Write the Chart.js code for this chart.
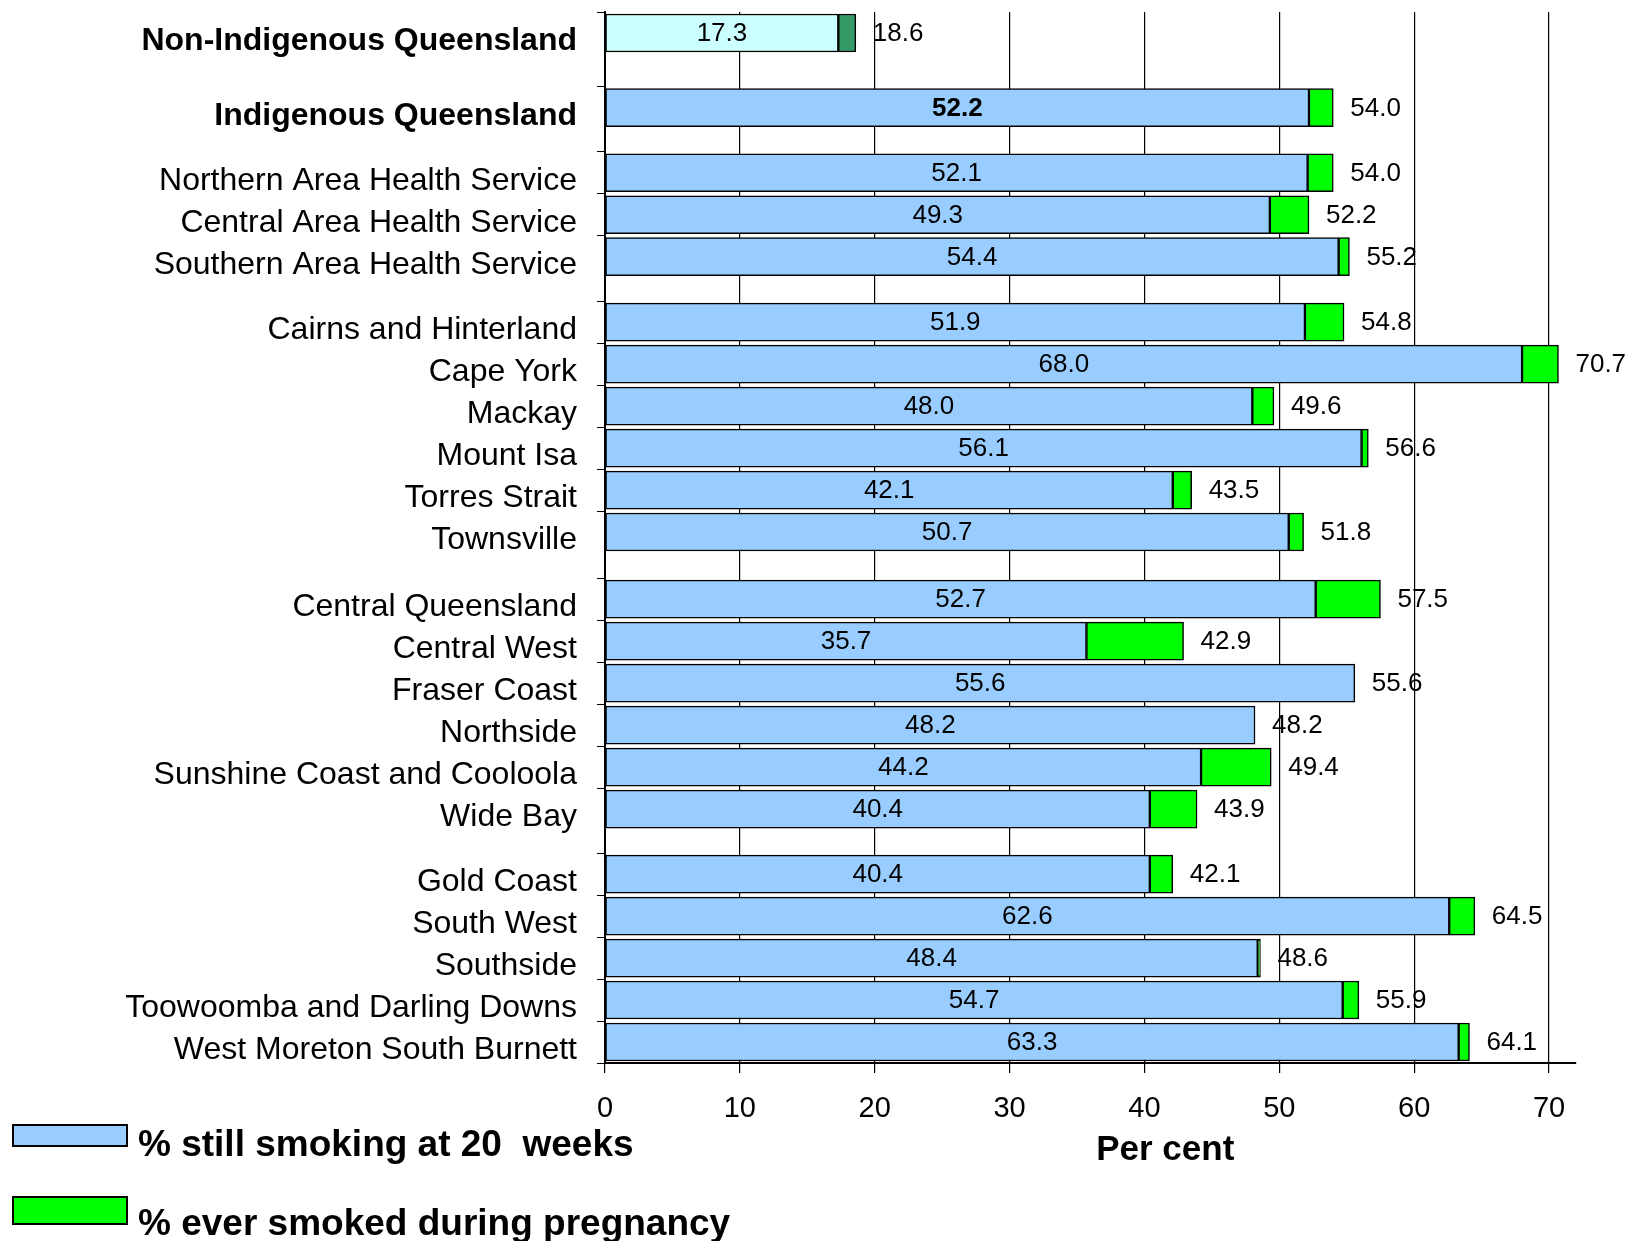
<!DOCTYPE html>
<html>
<head>
<meta charset="utf-8">
<script src="https://cdn.jsdelivr.net/npm/chart.js@4.4.1/dist/chart.umd.min.js"></script>
<style>
    html, body { margin: 0; padding: 0; background: #ffffff; }
    canvas { display: block; }
</style>
</head>
<body>
<canvas id="smokingChart" width="1628" height="1241"></canvas>
<script>
const categories = [
    'Non-Indigenous Queensland',
    'Indigenous Queensland',
    'Northern Area Health Service',
    'Central Area Health Service',
    'Southern Area Health Service',
    'Cairns and Hinterland',
    'Cape York',
    'Mackay',
    'Mount Isa',
    'Torres Strait',
    'Townsville',
    'Central Queensland',
    'Central West',
    'Fraser Coast',
    'Northside',
    'Sunshine Coast and Cooloola',
    'Wide Bay',
    'Gold Coast',
    'South West',
    'Southside',
    'Toowoomba and Darling Downs',
    'West Moreton South Burnett'
];
const groupSizes = [1, 1, 3, 6, 6, 5];
const boldRows = ['Non-Indigenous Queensland', 'Indigenous Queensland'];

const stillSmoking = [17.3, 52.2, 52.1, 49.3, 54.4, 51.9, 68.0, 48.0, 56.1, 42.1, 50.7,
    52.7, 35.7, 55.6, 48.2, 44.2, 40.4, 40.4, 62.6, 48.4, 54.7, 63.3];
const everSmoked = [18.6, 54.0, 54.0, 52.2, 55.2, 54.8, 70.7, 49.6, 56.6, 43.5, 51.8,
    57.5, 42.9, 55.6, 48.2, 49.4, 43.9, 42.1, 64.5, 48.6, 55.9, 64.1];
const xTickValues = [0, 10, 20, 30, 40, 50, 60, 70];

const seriesNames = ['% still smoking at 20  weeks', '% ever smoked during pregnancy'];
const xTitle = 'Per cent';

// layout: extra space (in rows) left between the groups of bars
const groupGaps = [0.78, 0.55, 0.56, 0.60, 0.55];
const FONT = '"Liberation Sans", Arial, sans-serif';

function rowPositions() {
    let pos = [];
    let y = 0;
    groupSizes.forEach((n, g) => {
        if (g > 0) y += groupGaps[g - 1];
        for (let i = 0; i < n; i++) {
            pos.push(y);
            y += 1;
        }
    });
    return pos;
}

const positions = rowPositions();
const extra = everSmoked.map((v, i) => Math.round((v - stillSmoking[i]) * 10) / 10);

const valueLabels = {
    id: 'valueLabels',
    afterDatasetsDraw(chart) {
        const ctx = chart.ctx;
        const blue = chart.getDatasetMeta(0).data;
        const green = chart.getDatasetMeta(1).data;
        ctx.save();
        ctx.fillStyle = '#000';
        ctx.textBaseline = 'middle';
        blue.forEach((bar, i) => {
            ctx.font = (i === 1 ? 'bold ' : '') + '26px ' + FONT;
            ctx.textAlign = 'center';
            ctx.fillText(stillSmoking[i].toFixed(1), (bar.x + bar.base) / 2, bar.y + 1);
            ctx.font = '26px ' + FONT;
            ctx.textAlign = 'left';
            ctx.fillText(everSmoked[i].toFixed(1), green[i].x + 17, bar.y + 1);
        });
        ctx.restore();
    }
};

const legendAndTitle = {
    id: 'legendAndTitle',
    afterDraw(chart) {
        const ctx = chart.ctx;
        const items = [
            { text: seriesNames[0], color: '#99CCFF', box: [13, 1125, 114, 21], base: 1156 },
            { text: seriesNames[1], color: '#00FF00', box: [13, 1197, 114, 27], base: 1235 }
        ];
        ctx.save();
        items.forEach(item => {
            ctx.fillStyle = item.color;
            ctx.fillRect(...item.box);
            ctx.strokeStyle = '#000';
            ctx.lineWidth = 2;
            ctx.strokeRect(...item.box);
            ctx.fillStyle = '#000';
            ctx.font = 'bold 37px ' + FONT;
            ctx.textAlign = 'left';
            ctx.textBaseline = 'alphabetic';
            ctx.fillText(item.text, 138, item.base);
        });
        const area = chart.chartArea;
        ctx.font = 'bold 35px ' + FONT;
        ctx.textAlign = 'center';
        ctx.fillText(xTitle, area.left + (area.right - area.left) * 0.577, 1160);
        ctx.restore();
    }
};

const ctx = document.getElementById('smokingChart').getContext('2d');
new Chart(ctx, {
    type: 'bar',
    data: {
        datasets: [{
            label: seriesNames[0],
            data: positions.map((p, i) => ({ x: stillSmoking[i], y: p })),
            backgroundColor: categories.map((c, i) => i === 0 ? '#CCFFFF' : '#99CCFF'),
            borderColor: '#000',
            borderWidth: 1.5,
            borderSkipped: false,
            barThickness: 38
        }, {
            label: seriesNames[1],
            data: positions.map((p, i) => ({ x: extra[i], y: p })),
            backgroundColor: categories.map((c, i) => i === 0 ? '#339966' : '#00FF00'),
            borderColor: '#000',
            borderWidth: 1.5,
            borderSkipped: false,
            barThickness: 38
        }]
    },
    options: {
        responsive: false,
        animation: false,
        indexAxis: 'y',
        layout: { padding: { top: 12, right: 52, left: 0, bottom: 0 } },
        plugins: {
            legend: { display: false },
            tooltip: { enabled: false }
        },
        scales: {
            x: {
                type: 'linear',
                stacked: true,
                min: 0,
                max: 72,
                afterBuildTicks: scale => {
                    scale.ticks = xTickValues.map(v => ({ value: v }));
                },
                afterFit: scale => {
                    scale.height = 178;
                    scale.paddingLeft = 0;
                    scale.paddingRight = 0;
                },
                ticks: {
                    color: '#000',
                    font: { family: FONT, size: 29 },
                    padding: 19,
                    maxRotation: 0
                },
                grid: {
                    color: '#000',
                    lineWidth: 1.2,
                    tickLength: 10,
                    tickColor: '#000'
                },
                border: { color: '#000', width: 2 }
            },
            y: {
                type: 'linear',
                stacked: true,
                reverse: true,
                offset: false,
                min: -0.5,
                max: positions[positions.length - 1] + 0.5,
                afterBuildTicks: scale => {
                    const ticks = [];
                    positions.forEach(p => {
                        ticks.push({ value: p - 0.5 });
                        ticks.push({ value: p });
                    });
                    ticks.push({ value: positions[positions.length - 1] + 0.5 });
                    scale.ticks = ticks;
                },
                afterFit: scale => {
                    scale.width = 605;
                    scale.paddingTop = 0;
                    scale.paddingBottom = 0;
                },
                ticks: {
                    autoSkip: false,
                    color: '#000',
                    padding: 20,
                    labelOffset: 8,
                    font: c => ({
                        family: FONT,
                        size: 32,
                        weight: c.tick && boldRows.includes(c.tick.label) ? 'bold' : 'normal'
                    }),
                    callback: value => {
                        const i = positions.indexOf(value);
                        return i >= 0 ? categories[i] : '';
                    }
                },
                grid: {
                    offset: false,
                    drawOnChartArea: false,
                    tickLength: 8,
                    color: '#000',
                    tickColor: c => (c.tick && c.tick.label) ? 'rgba(0,0,0,0)' : '#000'
                },
                border: { color: '#000', width: 2 }
            }
        }
    },
    plugins: [valueLabels, legendAndTitle]
});
</script>
</body>
</html>
